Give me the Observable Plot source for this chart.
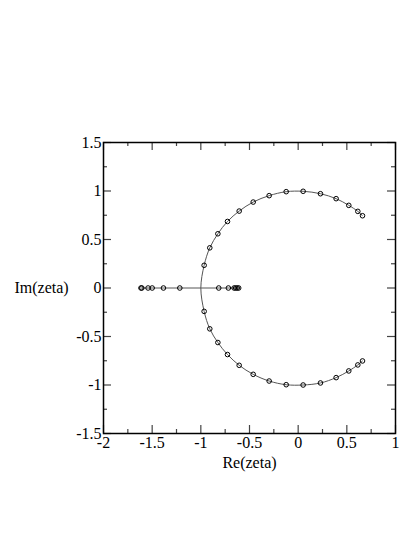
<!DOCTYPE html>
<html>
<head>
<meta charset="utf-8">
<script src="https://cdn.jsdelivr.net/npm/d3@7"></script>
<script src="https://cdn.jsdelivr.net/npm/@observablehq/plot@0.6"></script>
<style>
  html, body { margin: 0; padding: 0; background: #fff; }
  #chart { width: 415px; height: 537px; }
  #chart svg, #chart svg text { font-family: "Liberation Serif", "Times New Roman", serif !important; }
</style>
</head>
<body>
<div id="chart"></div>
<script>
// Upper arc markers (Re, Im)
const upperX = [0.661, 0.613, 0.520, 0.390, 0.229, 0.051, -0.123, -0.298, -0.462, -0.606, -0.726, -0.825, -0.908, -0.966];
const upperY = [0.745, 0.790, 0.852, 0.921, 0.972, 0.997, 0.993, 0.952, 0.886, 0.793, 0.686, 0.559, 0.414, 0.234];
// Lower arc markers (Re, Im)
const lowerX = [-0.966, -0.908, -0.825, -0.726, -0.606, -0.462, -0.298, -0.123, 0.051, 0.229, 0.390, 0.520, 0.613, 0.661];
const lowerY = [-0.241, -0.421, -0.562, -0.686, -0.797, -0.890, -0.959, -0.997, -1.000, -0.979, -0.924, -0.855, -0.793, -0.752];
// Point where the arc curve crosses the real axis
const crossX = -1.0;
const crossY = 0.0;
// Real-axis markers
const realX = [-1.615, -1.606, -1.542, -1.500, -1.384, -1.216, -0.816, -0.717, -0.658, -0.642, -0.626, -0.611];

const xMajor = [-2, -1.5, -1, -0.5, 0, 0.5, 1];
const xMinor = [-1.75, -1.25, -0.75, -0.25, 0.25, 0.75];
const yMajor = [-1.5, -1, -0.5, 0, 0.5, 1, 1.5];
const yMinor = [-1.25, -0.75, -0.25, 0.25, 0.75, 1.25];

const xLabel = "Re(zeta)";
const yLabel = "Im(zeta)";

const upper = upperX.map((x, i) => ({x, y: upperY[i]}));
const lower = lowerX.map((x, i) => ({x, y: lowerY[i]}));
const arcLine = [...upper, {x: crossX, y: crossY}, ...lower];
const markers = [...upper, ...lower, ...realX.map(x => ({x, y: 0}))];
const realLine = realX.map(x => ({x, y: 0}));

const W = 415, H = 537;
const mL = 103, mR = 20, mT = 142, mB = 104;
const pw = W - mL - mR, ph = H - mT - mB;
const big = 8, small = 4;
const tickColor = "#444";
const serif = "Liberation Serif";

const chart = Plot.plot({
  width: W,
  height: H,
  marginLeft: mL,
  marginRight: mR,
  marginTop: mT,
  marginBottom: mB,
  style: {fontSize: "16px", background: "#fff", color: "#000"},
  x: {domain: [-2, 1], axis: null},
  y: {domain: [-1.5, 1.5], axis: null},
  marks: [
    // inward ticks - bottom
    Plot.tickX(xMajor, {x: d => d, insetTop: ph - big, stroke: tickColor, strokeWidth: 1.2}),
    Plot.tickX(xMinor, {x: d => d, insetTop: ph - small, stroke: tickColor, strokeWidth: 1.2}),
    // top
    Plot.tickX(xMajor, {x: d => d, insetBottom: ph - big, stroke: tickColor, strokeWidth: 1.2}),
    Plot.tickX(xMinor, {x: d => d, insetBottom: ph - small, stroke: tickColor, strokeWidth: 1.2}),
    // left
    Plot.tickY(yMajor, {y: d => d, insetRight: pw - big, stroke: tickColor, strokeWidth: 1.2}),
    Plot.tickY(yMinor, {y: d => d, insetRight: pw - small, stroke: tickColor, strokeWidth: 1.2}),
    // right
    Plot.tickY(yMajor, {y: d => d, insetLeft: pw - big, stroke: tickColor, strokeWidth: 1.2}),
    Plot.tickY(yMinor, {y: d => d, insetLeft: pw - small, stroke: tickColor, strokeWidth: 1.2}),
    Plot.frame({stroke: "#000", strokeWidth: 1.5}),
    // tick labels
    Plot.axisX({ticks: xMajor, tickSize: 0, tickPadding: 3, tickFormat: d => String(d), label: null, fontSize: 16, fontFamily: serif, anchor: "bottom"}),
    Plot.axisY({ticks: yMajor, tickSize: 0, tickPadding: 2, tickFormat: d => String(d), label: null, fontSize: 16, fontFamily: serif, anchor: "left"}),
    // curves
    Plot.line(arcLine, {x: "x", y: "y", curve: "catmull-rom", stroke: "#555", strokeWidth: 1}),
    Plot.line(realLine, {x: "x", y: "y", stroke: "#555", strokeWidth: 1}),
    Plot.dot(markers, {x: "x", y: "y", r: 2.3, stroke: "#000", strokeWidth: 1, fill: "none"}),
    // axis labels
    Plot.text([xLabel], {frameAnchor: "bottom", dy: 34, text: d => d, fontSize: 16, fontFamily: serif}),
    Plot.text([yLabel], {frameAnchor: "left", dx: -89, textAnchor: "start", text: d => d, fontSize: 16, fontFamily: serif})
  ]
});
document.getElementById("chart").appendChild(chart);
</script>
</body>
</html>
